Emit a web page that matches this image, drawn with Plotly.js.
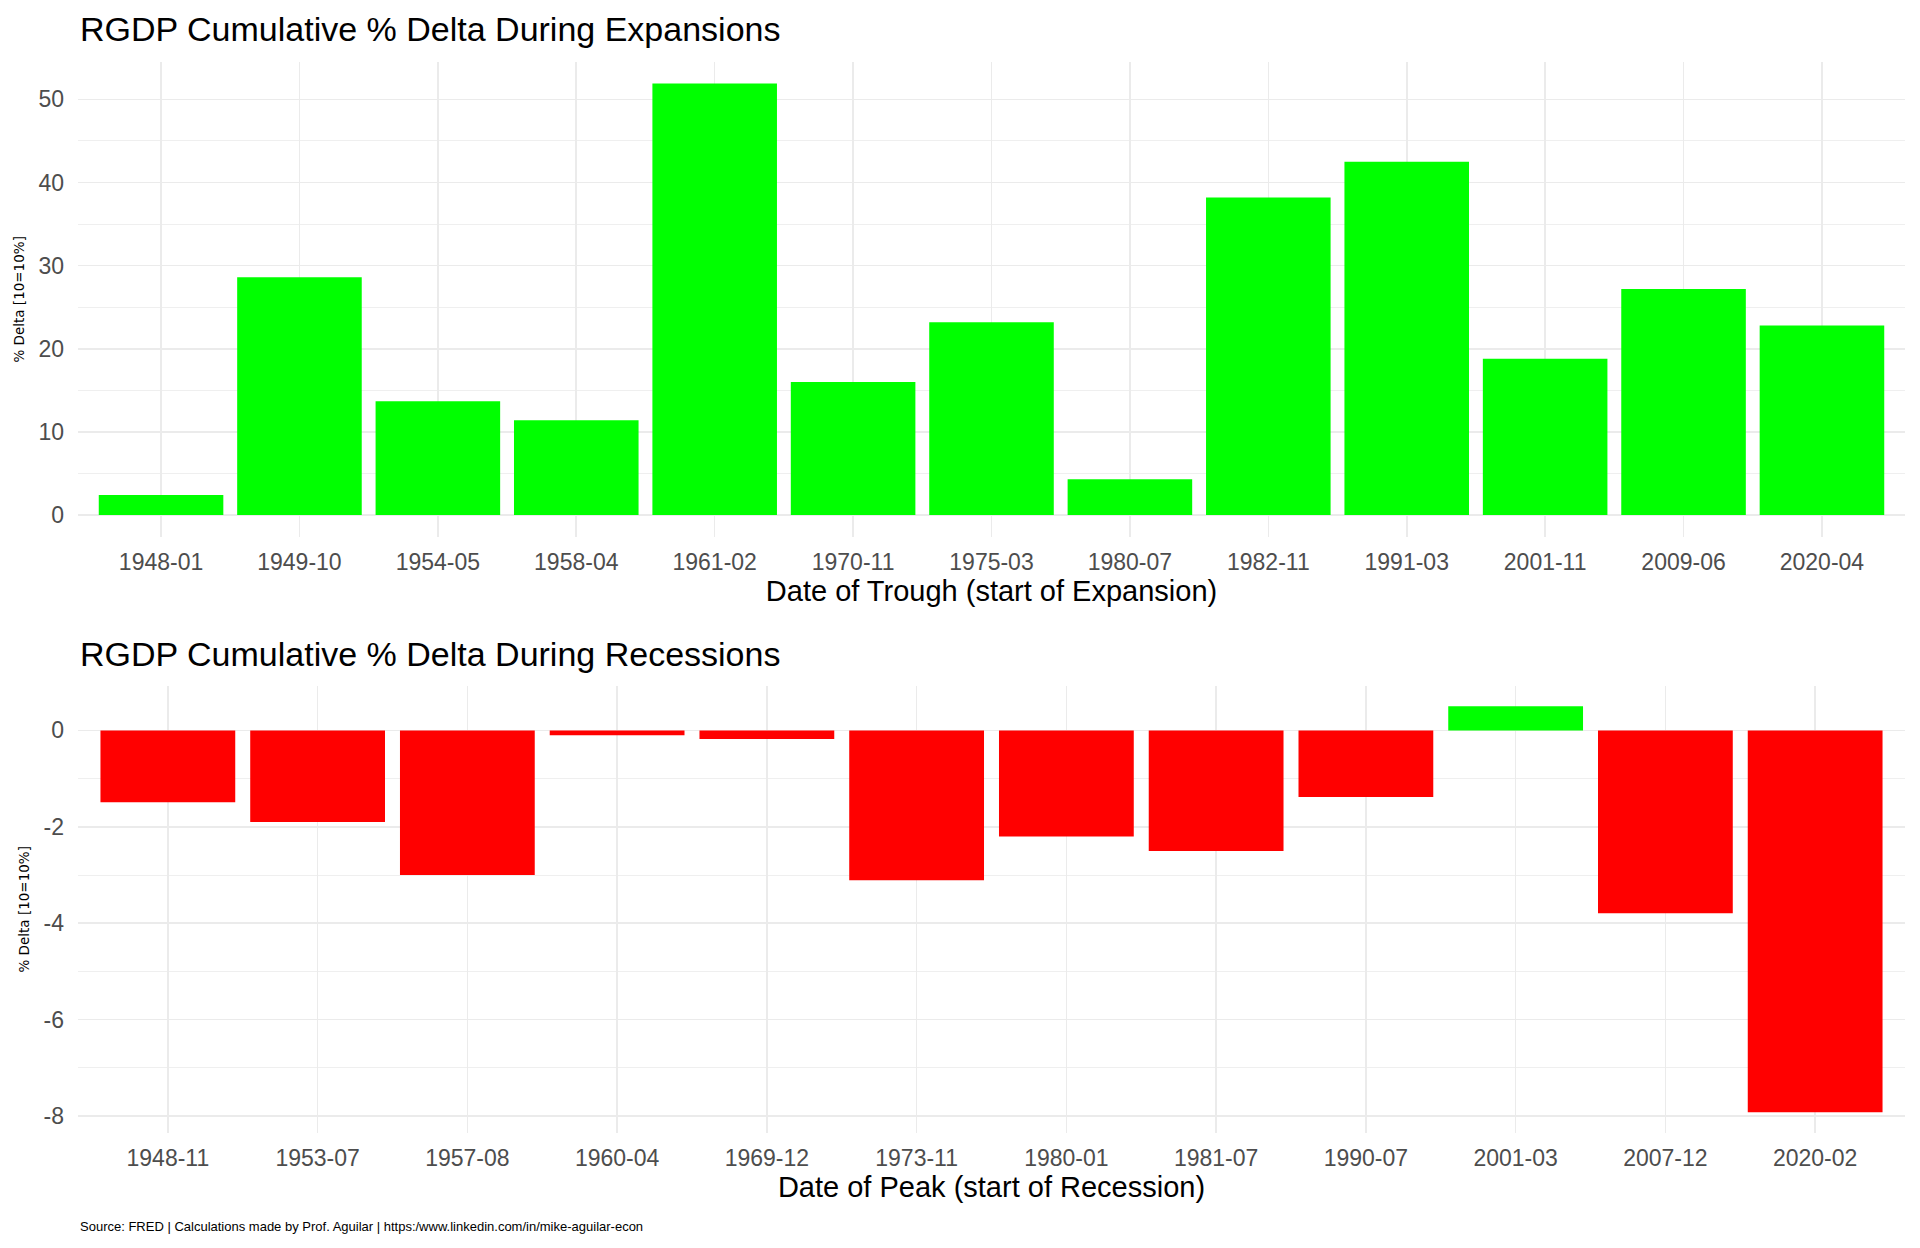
<!DOCTYPE html>
<html>
<head>
<meta charset="utf-8">
<script src="https://cdn.plot.ly/plotly-3.0.1.min.js"></script>
<style>
  html, body { margin: 0; padding: 0; background: #fff; }
  #plot { width: 1920px; height: 1248px; }
</style>
</head>
<body>
<div id="plot"></div>
<script>
// expansions: date of trough -> cumulative % delta of RGDP
const expDates = ['1948-01','1949-10','1954-05','1958-04','1961-02','1970-11','1975-03','1980-07','1982-11','1991-03','2001-11','2009-06','2020-04']
const expDelta = [2.4, 28.6, 13.7, 11.4, 51.9, 16.0, 23.2, 4.3, 38.2, 42.5, 18.8, 27.2, 22.8]

// recessions: date of peak -> cumulative % delta of RGDP
const recDates = ['1948-11','1953-07','1957-08','1960-04','1969-12','1973-11','1980-01','1981-07','1990-07','2001-03','2007-12','2020-02']
const recDelta = [-1.49, -1.90, -3.0, -0.10, -0.18, -3.11, -2.20, -2.50, -1.38, 0.50, -3.79, -7.92]

const expTicks = [0, 10, 20, 30, 40, 50]
const recTicks = [-8, -6, -4, -2, 0]

const FONT = 'Liberation Sans, Arial, sans-serif'
const GREEN = '#00FF00', RED = '#FF0000', GRID = '#EBEBEB', TICK = '#4D4D4D'

function padRange(vals){
    const lo = Math.min(0, ...vals), hi = Math.max(0, ...vals), pad = (hi - lo)*0.05
    return [lo - pad, hi + pad]
}

function xAxis(n, title, anchor){
    return {
        anchor: anchor,
        type: 'category',
        range: [-0.6, n - 0.4],
        showgrid: true, gridcolor: GRID, gridwidth: 1.6,
        zeroline: false, showline: false, ticks: '',
        ticklabelstandoff: 9,
        tickfont: {family: FONT, size: 23, color: TICK},
        title: {text: title, font: {family: FONT, size: 29, color: '#000'}, standoff: 5},
        fixedrange: true
    }
}

function yAxis(vals, ticks, minorStep, domain, anchor){
    return {
        anchor: anchor,
        domain: domain,
        range: padRange(vals),
        tickvals: ticks,
        ticktext: ticks.map(String),
        showgrid: true, gridcolor: GRID, gridwidth: 1.6,
        minor: {dtick: minorStep, showgrid: true, gridcolor: GRID, gridwidth: 0.8},
        zeroline: false, showline: false, ticks: '',
        ticklabelstandoff: 13,
        tickfont: {family: FONT, size: 23, color: TICK},
        title: {text: '% Delta [10=10%]', font: {family: 'DejaVu Sans, sans-serif', size: 13.5, color: '#000'}, standoff: 10},
        fixedrange: true
    }
}

const data = [{
    type: 'bar',
    x: expDates,
    y: expDelta,
    marker: {color: expDelta.map(v => v >= 0 ? GREEN : RED)},
    xaxis: 'x', yaxis: 'y',
    hoverinfo: 'x+y'
}, {
    type: 'bar',
    x: recDates,
    y: recDelta,
    marker: {color: recDelta.map(v => v >= 0 ? GREEN : RED)},
    xaxis: 'x2', yaxis: 'y2',
    hoverinfo: 'x+y'
}]

const layout = {
    width: 1920, height: 1248,
    margin: {l: 78, r: 15, t: 0, b: 0},
    paper_bgcolor: '#fff', plot_bgcolor: '#fff',
    showlegend: false,
    bargap: 0.1,
    font: {family: FONT},
    xaxis: xAxis(expDates.length, 'Date of Trough (start of Expansion)', 'y'),
    yaxis: yAxis(expDelta, expTicks, 5, [0.570, 0.9503], 'x'),
    xaxis2: xAxis(recDates.length, 'Date of Peak (start of Recession)', 'y2'),
    yaxis2: yAxis(recDelta, recTicks, 1, [0.0925, 0.4503], 'x2'),
    annotations: [{
        text: 'RGDP Cumulative % Delta During Expansions',
        xref: 'paper', yref: 'paper', x: 0, y: 0.9768,
        xanchor: 'left', yanchor: 'middle', showarrow: false,
        font: {family: FONT, size: 34, color: '#000'}
    }, {
        text: 'RGDP Cumulative % Delta During Recessions',
        xref: 'paper', yref: 'paper', x: 0, y: 0.476,
        xanchor: 'left', yanchor: 'middle', showarrow: false,
        font: {family: FONT, size: 34, color: '#000'}
    }, {
        text: 'Source: FRED | Calculations made by Prof. Aguilar | https:/www.linkedin.com/in/mike-aguilar-econ',
        xref: 'paper', yref: 'paper', x: 0, y: 0.0171,
        xanchor: 'left', yanchor: 'middle', showarrow: false,
        font: {family: FONT, size: 13, color: '#000'}
    }]
}

Plotly.newPlot('plot', data, layout, {displayModeBar: false, staticPlot: true})
</script>
</body>
</html>
